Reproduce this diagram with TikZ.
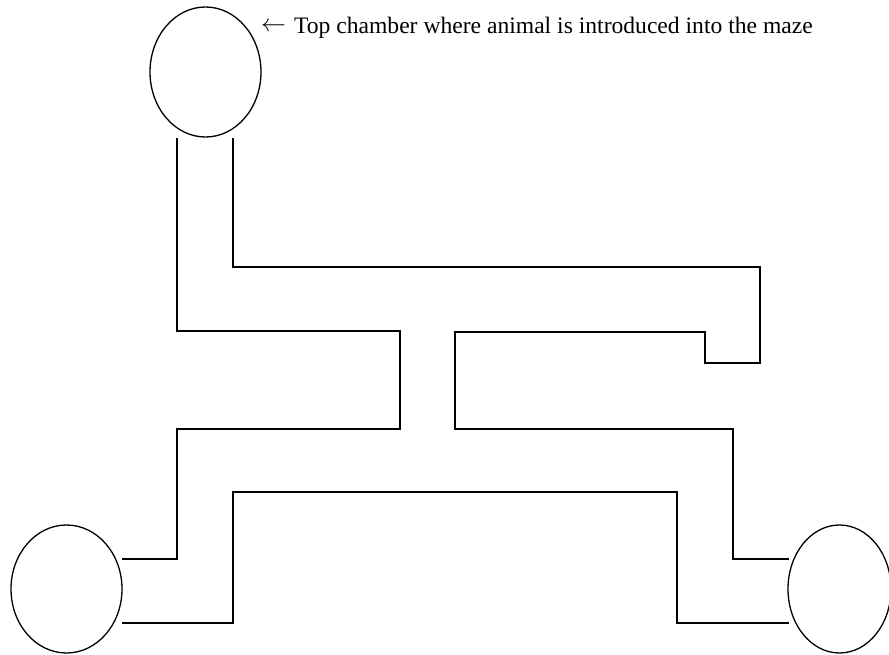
\documentclass[tikz,border=0pt]{standalone}
\usepackage{fontspec}
\setmainfont{Liberation Serif}
\usetikzlibrary{shapes.geometric}
\begin{document}
\begin{tikzpicture}[x=1pt,y=-1pt,
  wall/.style={line width=1.3pt,line join=miter},
  chamber/.style={draw,ellipse,line width=1.3pt,inner sep=0pt}]
\useasboundingbox (0,0) rectangle (889,655);
% chambers
\node[chamber,minimum width=111,minimum height=130] (top) at (205.5,72) {};
\node[chamber,minimum width=111,minimum height=128] (left) at (66.5,589) {};
\node[chamber,minimum width=103,minimum height=128] (right) at (839.5,589) {};
% label
\node[anchor=base west,font=\fontsize{23.6}{26}\selectfont,inner sep=0pt] (label) at (261,34)
  {\raisebox{2pt}{\fontsize{30}{30}\selectfont$\leftarrow$}\hspace{8pt}Top chamber where animal is introduced into the maze};
% outer-left wall
\draw[wall] (177,138) -- (177,331) -- (400,331) -- (400,429) -- (177,429) -- (177,559) -- (122,559);
% right wall
\draw[wall] (233,138) -- (233,267) -- (760,267) -- (760,363) -- (705,363) -- (705,332) -- (455,332) -- (455,429) -- (733,429) -- (733,559) -- (789,559);
% bottom inner wall
\draw[wall] (122,623) -- (233,623) -- (233,492) -- (677,492) -- (677,623) -- (789,623);
\end{tikzpicture}
\end{document}
